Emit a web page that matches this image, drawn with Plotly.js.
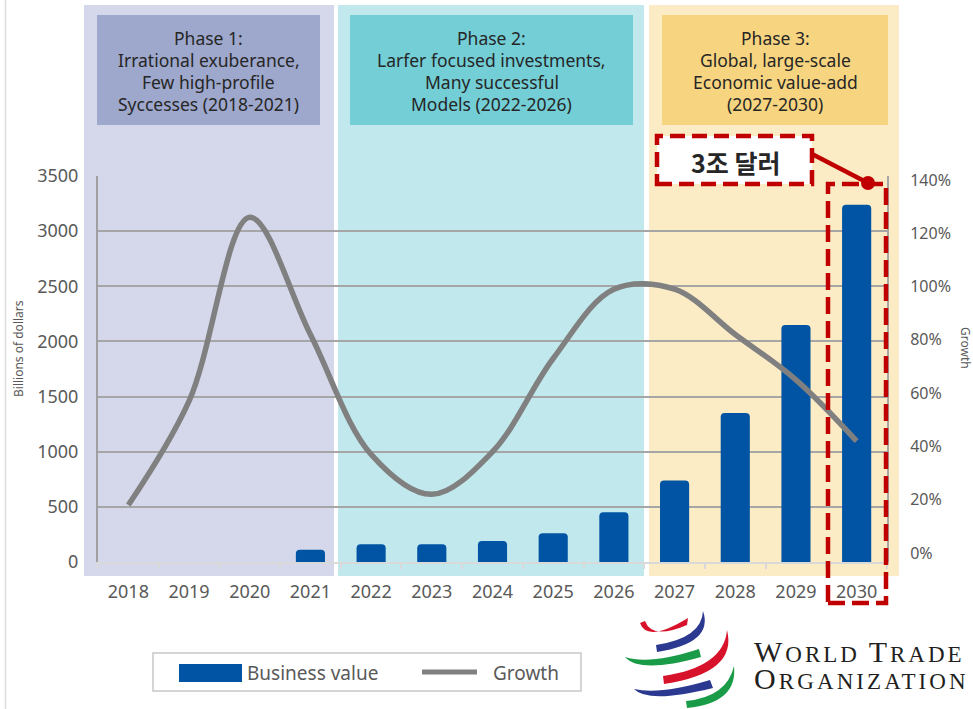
<!DOCTYPE html>
<html>
<head>
<meta charset="utf-8">
<script src="https://cdn.plot.ly/plotly-3.0.1.min.js"></script>
<style>
  html, body { margin: 0; padding: 0; background: #ffffff; }
  #chart { width: 973px; height: 709px; }
</style>
</head>
<body>
<div id="chart"></div>
<script>
// ---- data ----
const years = ['2018', '2019', '2020', '2021', '2022', '2023', '2024',
               '2025', '2026', '2027', '2028', '2029', '2030'];
// Business value, billions of dollars (no bars before 2021)
const businessValue = [null, null, null, 110, 160, 160, 190, 260, 450, 740, 1350, 2150, 3240];
// Growth, percent
const growthPct = [18, 57, 126, 82, 37, 22, 38, 73, 99, 99, 82, 65, 42];

const leftTicks = [0, 500, 1000, 1500, 2000, 2500, 3000, 3500];
const rightTicks = [0, 20, 40, 60, 80, 100, 120, 140];
const rightTickText = rightTicks.map(v => v + '%');

const phaseTitles = [
  ['Phase 1:', 'Irrational exuberance,', 'Few high-profile', 'Syccesses (2018-2021)'],
  ['Phase 2:', 'Larfer focused investments,', 'Many successful', 'Models (2022-2026)'],
  ['Phase 3:', 'Global, large-scale', 'Economic value-add', '(2027-2030)']
];
const calloutText = '3조 달러';
const seriesNames = ['Business value', 'Growth'];

// ---- page geometry (pixels) ----
const W = 973, H = 709;
const M = { l: 98, r: 86, t: 176, b: 147 };
const PW = W - M.l - M.r, PH = H - M.t - M.b;
const px = x => (x - M.l) / PW;
const py = y => (H - M.b - y) / PH;

const FONT = '"Noto Sans", "Open Sans", sans-serif';
const GREY_TXT = '#595959';

const shapes = [];
const annotations = [];

function rect(x0, y0, x1, y1, fill, extra) {
  shapes.push(Object.assign({
    type: 'rect', xref: 'paper', yref: 'paper',
    x0: px(x0), x1: px(x1), y0: py(y1), y1: py(y0),
    fillcolor: fill, line: { width: 0 }, layer: 'below'
  }, extra || {}));
}
function line(x0, y0, x1, y1, color, width, extra) {
  shapes.push(Object.assign({
    type: 'line', xref: 'paper', yref: 'paper',
    x0: px(x0), x1: px(x1), y0: py(y0), y1: py(y1),
    line: { color: color, width: width }
  }, extra || {}));
}
function pathPx(d, fill) {
  const converted = d.replace(/(-?\d+(?:\.\d+)?),(-?\d+(?:\.\d+)?)/g,
    (m, a, b) => px(+a).toFixed(5) + ',' + py(+b).toFixed(5));
  shapes.push({
    type: 'path', xref: 'paper', yref: 'paper', path: converted,
    fillcolor: fill, line: { width: 0 }, layer: 'above'
  });
}
function label(x, y, text, opts) {
  annotations.push(Object.assign({
    xref: 'paper', yref: 'paper', x: px(x), y: py(y), text: text,
    showarrow: false, xanchor: 'center', yanchor: 'middle',
    font: { family: FONT, size: 17, color: '#262626' }
  }, opts || {}));
}

// thin frame line at the far left
line(5.5, 0, 5.5, H, '#dcdcdc', 1.5, { layer: 'below' });

// phase bands and their title boxes
const bands = [
  { x0: 84, x1: 334, bg: '#d5d8ea', box: [97, 320], boxColor: '#9ea8cc' },
  { x0: 338, x1: 644, bg: '#c1e9ed', box: [350, 633], boxColor: '#73ced6' },
  { x0: 649, x1: 899, bg: '#fcecc6', box: [662, 888], boxColor: '#f7d580' }
];
bands.forEach((b, i) => {
  rect(b.x0, 5, b.x1, 576, b.bg);
  rect(b.box[0], 15, b.box[1], 125, b.boxColor);
  const cx = (b.box[0] + b.box[1]) / 2;
  phaseTitles[i].forEach((t, k) => label(cx, 38 + 22 * k, t, {
    font: { family: FONT, size: 17.5, color: '#262626' }
  }));
});

// axis titles
label(18, 349, 'Billions of dollars', {
  textangle: -90, font: { family: FONT, size: 12, color: GREY_TXT }
});
label(966, 348, 'Growth', {
  textangle: 90, font: { family: FONT, size: 12, color: GREY_TXT }
});

// callout: "3조 달러" box, connector and marker dot, box around 2030
const RED = '#c00000';
line(812, 154, 868, 183, RED, 4.5, { layer: 'above' });
shapes.push({
  type: 'rect', xref: 'paper', yref: 'paper',
  x0: px(657), x1: px(812), y0: py(184), y1: py(136),
  fillcolor: '#ffffff', line: { color: RED, width: 4.5, dash: '15px,7px' }, layer: 'above'
});
shapes.push({
  type: 'circle', xref: 'paper', yref: 'paper',
  x0: px(861), x1: px(875), y0: py(190), y1: py(176),
  fillcolor: RED, line: { width: 0 }, layer: 'above'
});
shapes.push({
  type: 'rect', xref: 'paper', yref: 'paper',
  x0: px(828), x1: px(886), y0: py(603), y1: py(184),
  fillcolor: 'rgba(0,0,0,0)', line: { color: RED, width: 4.5, dash: '17px,7px' }, layer: 'above'
});
label(735, 162, '<b>' + calloutText + '</b>', {
  font: { family: '"Noto Sans CJK KR", "Noto Sans", sans-serif', size: 25, color: '#262626' }
});

// legend
shapes.push({
  type: 'rect', xref: 'paper', yref: 'paper',
  x0: px(153), x1: px(581), y0: py(691), y1: py(653),
  fillcolor: '#ffffff', line: { color: '#c8c8c8', width: 1.5 }, layer: 'above'
});
shapes.push({
  type: 'rect', xref: 'paper', yref: 'paper',
  x0: px(179), x1: px(242), y0: py(682), y1: py(664),
  fillcolor: '#0054a3', line: { width: 0 }, layer: 'above'
});
line(422, 672, 477, 672, '#808080', 5, { layer: 'above' });
label(245, 673, seriesNames[0], {
  xanchor: 'left', font: { family: FONT, size: 19, color: GREY_TXT }
});
label(491, 673, seriesNames[1], {
  xanchor: 'left', font: { family: FONT, size: 19, color: GREY_TXT }
});

// WTO emblem: six swooshes round a globe
const WTO_RED = '#d7132b', WTO_BLUE = '#2b3990', WTO_GREEN = '#1a9b48';
pathPx('M 640,623 Q 647,643 688,618 L 687,625 Q 652,640 645,621 Z', WTO_RED);
pathPx('M 656,645 L 657,652 Q 714,643 703,611 Q 702,638 656,645 Z', WTO_BLUE);
pathPx('M 625,657 Q 640,674 701,657 L 699,649 Q 650,665 625,657 Z', WTO_GREEN);
pathPx('M 663,676 L 664,684 Q 738,673 727,630 Q 724,667 663,676 Z', WTO_RED);
pathPx('M 634,689 Q 648,704 713,688 L 710,680 Q 660,695 634,689 Z', WTO_BLUE);
pathPx('M 686,701 L 687,708 Q 738,703 734,666 Q 727,697 686,701 Z', WTO_GREEN);

// WTO wordmark in small capitals
const SERIF = '"Liberation Serif", "DejaVu Serif", serif';
const big = (s, sp) => '<span style="font-size:30px;letter-spacing:' + sp + 'px">' + s + '</span>';
const small = (s, sp) => '<span style="font-size:23px;letter-spacing:' + sp + 'px">' + s + '</span>';
label(752, 665,
  big('W', 3) + small('ORLD', 3) + small(' ', 3) + big('T', 3) + small('RADE', 3) + '<br>' +
  big('O', 3.1) + small('RGANIZATION', 3.1), {
  xanchor: 'left', align: 'left', font: { family: SERIF, size: 21, color: '#231f20' }
});

// ---- traces ----
const bars = {
  type: 'bar', name: seriesNames[0], x: years, y: businessValue,
  marker: { color: '#0054a3', cornerradius: 4 },
  width: 0.48, hoverinfo: 'x+y'
};
const growth = {
  type: 'scatter', mode: 'lines', name: seriesNames[1], x: years, y: growthPct,
  yaxis: 'y2',
  line: { color: '#808080', width: 5.5, shape: 'spline', smoothing: 1 },
  hoverinfo: 'x+y'
};

const layout = {
  width: W, height: H,
  margin: M,
  paper_bgcolor: '#ffffff',
  plot_bgcolor: 'rgba(0,0,0,0)',
  showlegend: false,
  font: { family: FONT, color: GREY_TXT },
  xaxis: {
    type: 'category', range: [-0.5, 12.5],
    showline: true, linecolor: '#d9d9d9', linewidth: 2,
    ticks: 'outside', tickson: 'boundaries', ticklen: 5, tickcolor: '#d9d9d9', tickwidth: 2,
    showgrid: false, ticklabelstandoff: 12,
    tickfont: { family: FONT, size: 18, color: GREY_TXT }
  },
  yaxis: {
    range: [0, 3500], tickvals: leftTicks, ticktext: leftTicks.map(String),
    showgrid: true, gridcolor: '#a6a6a6', gridwidth: 1.5,
    showline: true, linecolor: '#a0a0a0', linewidth: 2,
    zeroline: false, ticks: '', ticklabelstandoff: 14,
    tickfont: { family: FONT, size: 18, color: GREY_TXT }
  },
  yaxis2: {
    overlaying: 'y', side: 'right', range: [-3.39, 141.5],
    tickvals: rightTicks, ticktext: rightTickText,
    showgrid: false, zeroline: false,
    showline: true, linecolor: '#a6a6a6', linewidth: 2,
    ticks: '', ticklabelstandoff: 18,
    tickfont: { family: FONT, size: 16, color: GREY_TXT }
  },
  shapes: shapes,
  annotations: annotations
};

Plotly.newPlot('chart', [bars, growth], layout, { displayModeBar: false, responsive: false });
</script>
</body>
</html>
